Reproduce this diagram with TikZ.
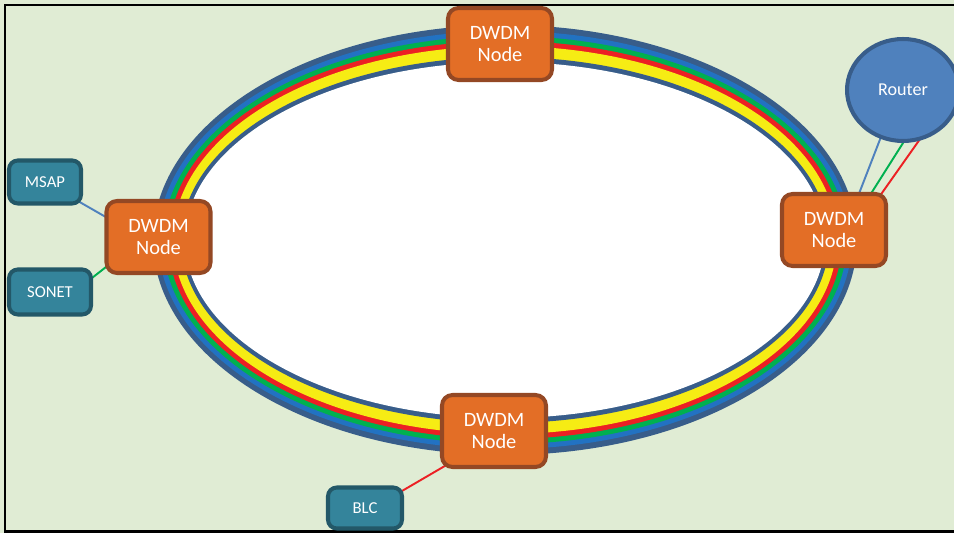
\documentclass[tikz,border=0pt]{standalone}
\usepackage{fontspec}
\setmainfont{Carlito}
\usepackage{xcolor}
\usepackage{tikz}
\usetikzlibrary{shapes.geometric,backgrounds}
\definecolor{bggreen}{RGB}{224,236,212}
\definecolor{nodeorange}{RGB}{227,110,38}
\definecolor{nodebrown}{RGB}{148,72,36}
\definecolor{tealfill}{RGB}{52,132,155}
\definecolor{tealdark}{RGB}{35,88,104}
\definecolor{routerblue}{RGB}{79,129,189}
\definecolor{ringdark}{RGB}{56,93,138}
\definecolor{ringblue}{RGB}{34,114,194}
\definecolor{ringgreen}{RGB}{0,176,80}
\definecolor{ringred}{RGB}{236,32,36}
\definecolor{ringyellow}{RGB}{246,236,20}
\tikzset{dwdm node/.style={rectangle,rounded corners=6pt,draw=nodebrown,fill=nodeorange,line width=2.3pt,text=white,align=center,inner sep=0pt,minimum width=2.08cm,minimum height=1.44cm,font=\fontsize{11.6}{12.5}\selectfont},
client node/.style={rectangle,rounded corners=5pt,draw=tealdark,fill=tealfill,line width=2.3pt,text=white,inner sep=0pt,minimum height=0.86cm,font=\fontsize{9.5}{11}\selectfont},
link/.style={line width=1.1pt,shorten <=-4pt,shorten >=-4pt},}

\begin{document}
\begin{tikzpicture}[x=0.02cm,y=-0.02cm]
    \useasboundingbox (0,0) rectangle (954,533);
    \clip (0,0) rectangle (954,533);

    % ring nodes
    \node[dwdm node] (ntop) at (500,44) {DWDM\\Node};
    \node[dwdm node] (nleft) at (158.5,237) {DWDM\\Node};
    \node[dwdm node] (nright) at (834,230) {DWDM\\Node};
    \node[dwdm node] (nbottom) at (494,431) {DWDM\\Node};

    % clients
    \node[client node,minimum width=1.44cm] (msap) at (45,182) {MSAP};
    \node[client node,minimum width=1.64cm,minimum height=0.9cm] (sonet) at (50,292) {SONET};
    \node[client node,minimum width=1.48cm,minimum height=0.82cm] (blc) at (365,508) {BLC};
    \node[ellipse,draw=ringdark,fill=routerblue,line width=2.3pt,text=white,inner sep=0pt,minimum width=2.24cm,minimum height=2.04cm,font=\fontsize{10.3}{12}\selectfont] (router) at (903,90) {Router};

    \begin{scope}[on background layer]
    \fill[bggreen] (0,0) rectangle (954,533);
    \draw[line width=1.7pt] (5,5) rectangle (1000,531.5);

    % fibre ring
    \fill[ringdark] (505,240) ellipse [x radius=352,y radius=215];
    \fill[ringblue] (505,240) ellipse [x radius=347,y radius=209];
    \fill[ringgreen] (505,240) ellipse [x radius=342,y radius=204];
    \fill[ringred] (505,240) ellipse [x radius=337,y radius=199];
    \fill[ringyellow] (505,240) ellipse [x radius=332,y radius=194];
    \fill[ringdark] (505,240) ellipse [x radius=324,y radius=183];
    \fill[white] (505,240) ellipse [x radius=320,y radius=178];

    \path[link]
    (msap.-30) edge[routerblue] (nleft.159)
    (sonet.19) edge[ringgreen] (nleft.210)
    (blc.25) edge[ringred] (nbottom.215)
    (router.245) edge[routerblue] (nright.56)
    (router.270) edge[ringgreen] (nright.45)
    (router.287) edge[ringred] (nright.38)
    ;
    \end{scope}
\end{tikzpicture}
\end{document}
